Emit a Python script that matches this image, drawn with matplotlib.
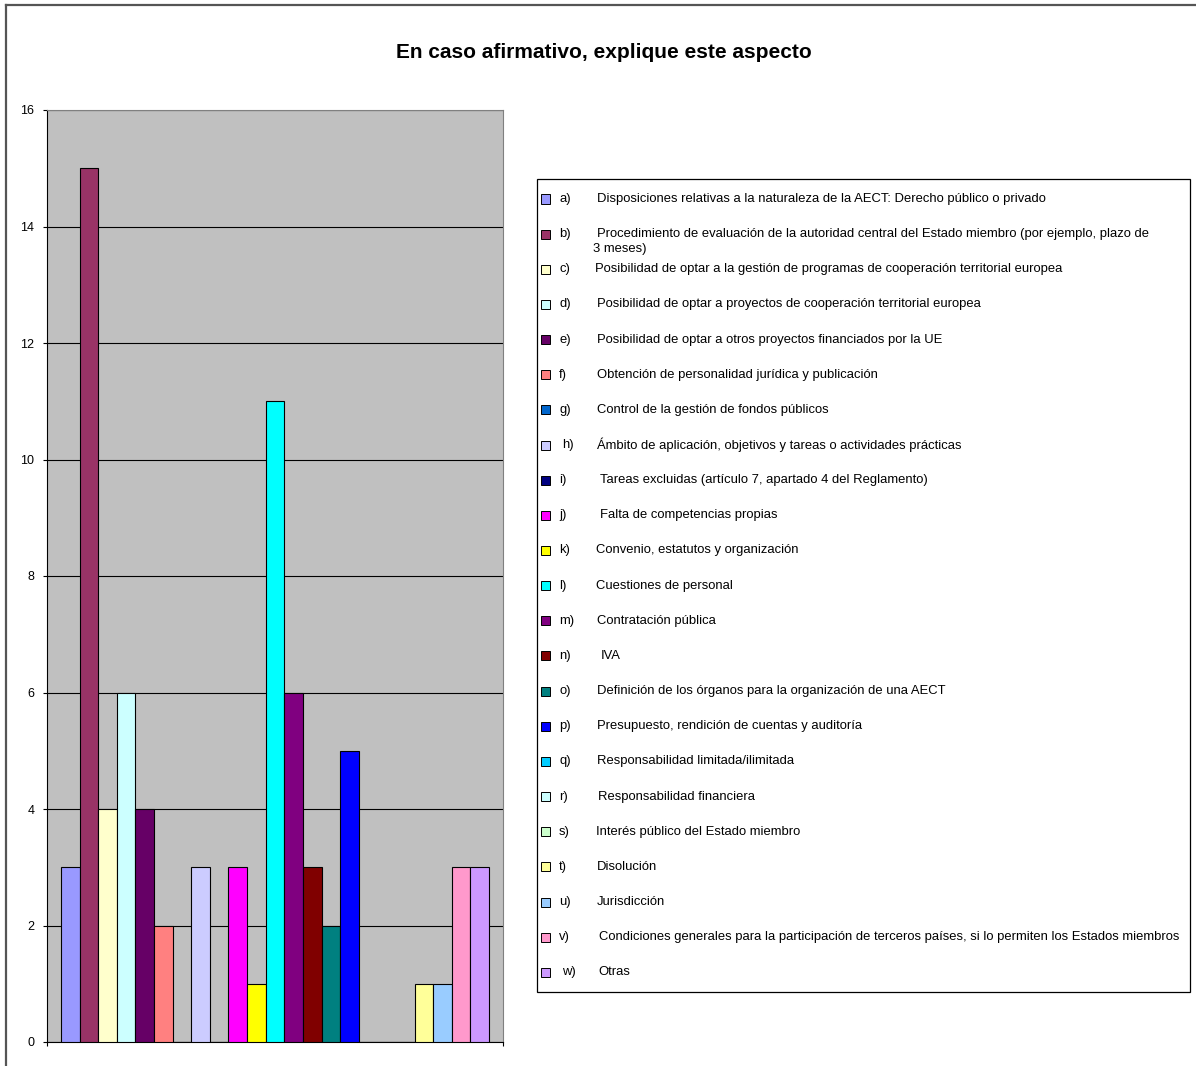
import matplotlib
matplotlib.use("Agg")
import matplotlib.pyplot as plt
from matplotlib.patches import Rectangle
from matplotlib.lines import Line2D
import numpy as np

plt.rcParams['font.family'] = ['Liberation Sans', 'DejaVu Sans']

title = "En caso afirmativo, explique este aspecto"

keys = ["a)", "b)", "c)", "d)", "e)", "f)", "g)", "h)", "i)", "j)", "k)", "l)",
        "m)", "n)", "o)", "p)", "q)", "r)", "s)", "t)", "u)", "v)", "w)"]

labels = [
    "Disposiciones relativas a la naturaleza de la AECT: Derecho público o privado",
    "Procedimiento de evaluación de la autoridad central del Estado miembro (por ejemplo, plazo de\n3 meses)",
    "Posibilidad de optar a la gestión de programas de cooperación territorial europea",
    "Posibilidad de optar a proyectos de cooperación territorial europea",
    "Posibilidad de optar a otros proyectos financiados por la UE",
    "Obtención de personalidad jurídica y publicación",
    "Control de la gestión de fondos públicos",
    "Ámbito de aplicación, objetivos y tareas o actividades prácticas",
    "Tareas excluidas (artículo 7, apartado 4 del Reglamento)",
    "Falta de competencias propias",
    "Convenio, estatutos y organización",
    "Cuestiones de personal",
    "Contratación pública",
    "IVA",
    "Definición de los órganos para la organización de una AECT",
    "Presupuesto, rendición de cuentas y auditoría",
    "Responsabilidad limitada/ilimitada",
    "Responsabilidad financiera",
    "Interés público del Estado miembro",
    "Disolución",
    "Jurisdicción",
    "Condiciones generales para la participación de terceros países, si lo permiten los Estados miembros",
    "Otras",
]

values = [3, 15, 4, 6, 4, 2, 0, 3, 0, 3, 1, 11, 6, 3, 2, 5, 0, 0, 0, 1, 1, 3, 3]

colors = ["#9999FF", "#993366", "#FFFFCC", "#CCFFFF", "#660066", "#FF8080",
          "#0066CC", "#CCCCFF", "#000080", "#FF00FF", "#FFFF00", "#00FFFF",
          "#800080", "#800000", "#008080", "#0000FF", "#00CCFF", "#CCFFFF",
          "#CCFFCC", "#FFFF99", "#99CCFF", "#FF99CC", "#CC99FF"]

yticks = [0, 2, 4, 6, 8, 10, 12, 14, 16]

W, H = 1196, 1066
fig = plt.figure(figsize=(W / 100, H / 100), dpi=100)

def fx(px):
    return px / W

def fy(py):
    return 1 - py / H

# outer chart frame (top and left edges)
fig.add_artist(Line2D([fx(6), fx(6)], [fy(5), fy(1066)], color="#555555", lw=1.6,
                      transform=fig.transFigure))
fig.add_artist(Line2D([fx(6), fx(1196)], [fy(5), fy(5)], color="#555555", lw=1.6,
                      transform=fig.transFigure))

fig.text(fx(604), fy(52), title, ha="center", va="center", fontsize=15,
         fontweight="bold")

# plot area
left, right, top, bottom = 47, 503, 110, 1042
ax = fig.add_axes([fx(left), fy(bottom), fx(right - left), fy(top) - fy(bottom)])
ax.set_facecolor("#C0C0C0")

n = len(values)
span = right - left
bar_w = (489 - 61) / span / n
x0 = (61 - left) / span
xs = x0 + bar_w * (np.arange(n) + 0.5)
ax.bar(xs, values, width=bar_w, color=colors, edgecolor="black", linewidth=0.8,
       zorder=3)

ax.set_xlim(0, 1)
ax.set_ylim(0, 16)
ax.set_yticks(yticks)
ax.set_yticklabels([str(t) for t in yticks], fontsize=9)
ax.yaxis.grid(True, color="black", linewidth=0.8, zorder=1)
ax.set_axisbelow(True)
ax.tick_params(axis="y", length=3, width=0.8, pad=6, direction="out")
ax.set_xticks([0, 1])
ax.set_xticklabels([])
ax.tick_params(axis="x", length=3, width=0.8, direction="out")
for s in ["top", "right"]:
    ax.spines[s].set_color("#808080")
    ax.spines[s].set_linewidth(0.8)
for s in ["left", "bottom"]:
    ax.spines[s].set_color("black")
    ax.spines[s].set_linewidth(0.8)

# legend box
lg_l, lg_t, lg_r, lg_b = 537, 179, 1190, 992
fig.add_artist(Rectangle((fx(lg_l), fy(lg_b)), fx(lg_r - lg_l), fy(lg_t) - fy(lg_b),
                         transform=fig.transFigure, facecolor="white",
                         edgecolor="black", linewidth=0.9))

fs = 9.4
row_y = 199 + 35.15 * np.arange(n)
text_x = [597, 597, 595, 597, 597, 597, 597, 597, 600, 600, 596, 596, 597,
          601, 597, 597, 597, 598, 596, 597, 597, 599, 598]
key_x = [559, 559, 559, 559, 559, 559, 559, 562, 559, 559, 559, 559, 559,
         559, 559, 559, 559, 559, 559, 559, 559, 559, 562]
sq = 9
for i in range(n):
    yc = row_y[i]
    fig.add_artist(Rectangle((fx(541), fy(yc + sq / 2)), fx(sq), fy(yc - sq / 2) - fy(yc + sq / 2),
                             transform=fig.transFigure, facecolor=colors[i],
                             edgecolor="black", linewidth=0.7))
    fig.text(fx(key_x[i]), fy(yc), keys[i], ha="left", va="center", fontsize=fs)
    if "\n" in labels[i]:
        l1, l2 = labels[i].split("\n")
        fig.text(fx(text_x[i]), fy(yc), l1, ha="left", va="center", fontsize=fs)
        fig.text(fx(text_x[i] - 4), fy(yc + 15), l2, ha="left", va="center", fontsize=fs)
    else:
        fig.text(fx(text_x[i]), fy(yc), labels[i], ha="left", va="center", fontsize=fs)

fig.savefig("out.png", dpi=100, facecolor="white")
